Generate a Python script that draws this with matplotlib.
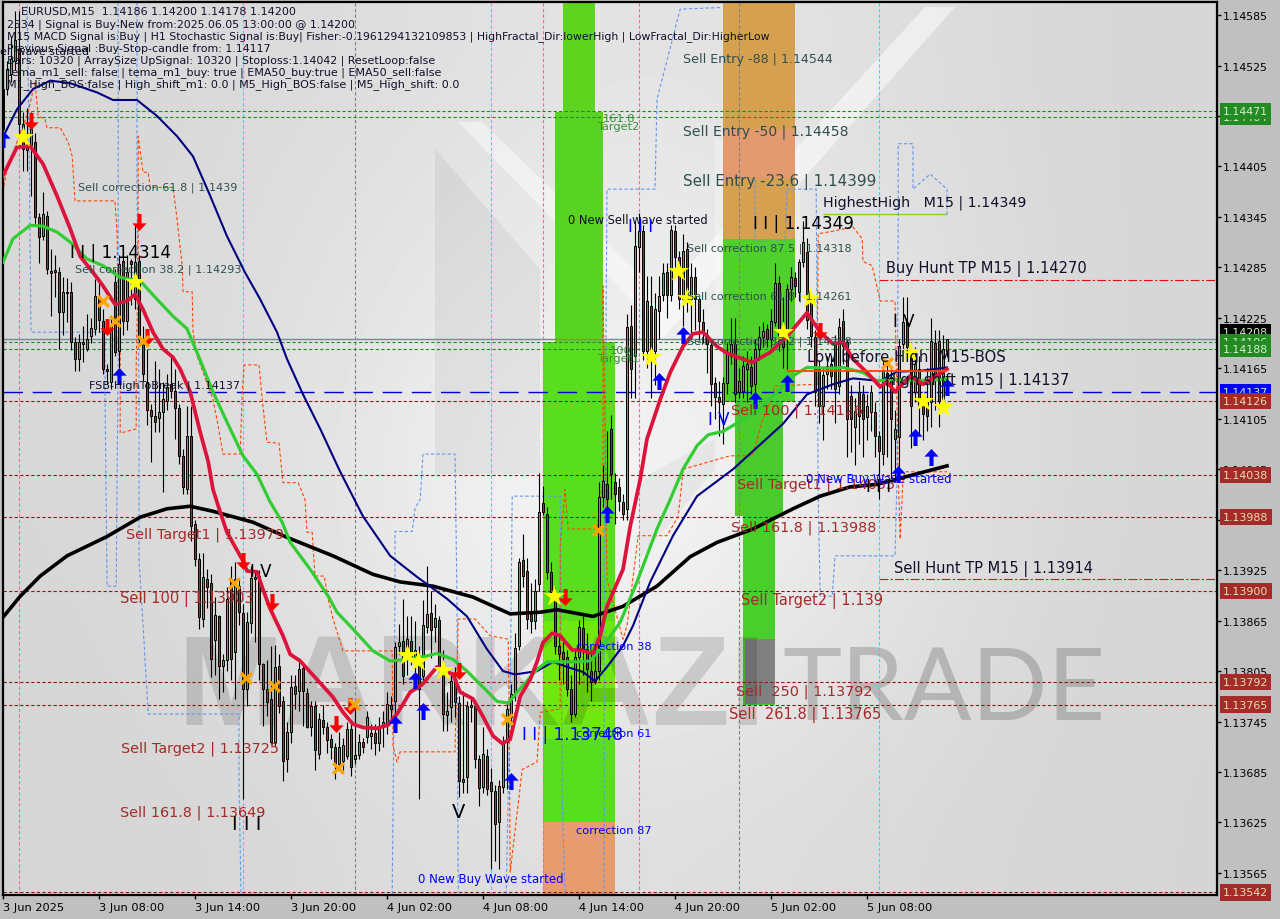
import matplotlib
matplotlib.use('Agg')
import matplotlib.pyplot as plt
import numpy as np
from matplotlib.patches import Polygon, Rectangle
from matplotlib.path import Path

# all prices are points above 1.13000
opens = [1449,1497,1515,1530,1545,1455,1430,1430,1434,1345,1322,1346,1281,1282,1280,1232,1256,1256,1196,1176,
         1196,1188,1203,1212,1251,1221,1164,1149,1268,1185,1292,1221,1292,1247,1292,1200,1149,1116,1108,1106,
         1113,1126,1146,1138,1118,1061,1021,1084,980,938,867,914,910,842,870,811,818,914,828,906,
         874,784,862,917,918,813,784,772,721,811,769,700,733,787,781,809,779,738,763,706,
         747,738,724,715,695,698,704,736,700,705,721,727,728,731,720,738,742,765,769,835,
         841,830,841,820,811,799,858,874,857,866,813,753,762,795,767,677,679,765,763,700,
         667,704,673,663,625,667,721,750,778,835,937,924,873,864,908,1005,992,923,899,835,
         828,822,784,754,822,856,831,805,792,805,1012,1028,1093,1030,1024,1006,998,1215,1180,1309,
         1328,1185,1239,1185,1233,1252,1279,1252,1328,1297,1247,1307,1247,1273,1247,1220,1205,1193,1147,1131,
         1122,1148,1180,1194,1137,1138,1164,1166,1146,1188,1202,1212,1200,1220,1267,1200,1203,1259,1272,1256,
         1291,1303,1247,1202,1164,1120,1158,1170,1196,1144,1221,1196,1132,1095,1137,1134,1107,1113,1113,1084,
         1063,1160,1155,1081,1083,1194,1220,1184,1137,1164,1126,1125,1125,1195,1197,1126,1186]
highs = [1510,1530,1560,1590,1590,1470,1475,1470,1445,1350,1375,1352,1307,1300,1285,1274,1272,1268,1202,1206,
         1215,1229,1225,1271,1272,1235,1170,1225,1283,1300,1300,1300,1295,1336,1300,1215,1188,1122,1174,1164,
         1149,1158,1178,1164,1122,1069,1120,1120,985,945,945,926,920,893,872,825,905,930,935,915,
         885,875,930,925,925,815,818,835,836,825,775,745,800,800,820,815,785,770,770,755,
         765,745,730,720,732,725,745,745,760,730,725,758,742,742,750,758,780,775,840,861,
         891,870,870,865,835,890,930,900,885,870,830,780,800,810,775,781,770,775,770,705,
         738,712,690,670,675,728,770,790,850,940,968,940,910,915,1040,1025,1000,935,905,845,
         840,830,800,830,866,870,850,830,830,1030,1050,1090,1110,1040,1035,1015,1230,1240,1340,1350,
         1335,1275,1275,1255,1275,1290,1290,1335,1335,1305,1325,1315,1290,1285,1250,1235,1212,1200,1155,1150,
         1155,1195,1225,1225,1165,1180,1185,1180,1200,1215,1220,1218,1235,1290,1275,1250,1265,1285,1280,1295,
         1340,1320,1255,1210,1175,1165,1180,1180,1205,1225,1235,1200,1145,1130,1150,1145,1135,1145,1125,1090,
         1175,1170,1165,1115,1200,1250,1250,1190,1190,1180,1135,1165,1225,1210,1210,1205,1200]
lows = [1440,1490,1505,1520,1440,1400,1400,1370,1335,1290,1318,1277,1227,1250,1188,1204,1220,1187,1162,1162,
        1172,1186,1195,1205,1208,1158,1146,1140,1180,1165,1205,1210,1240,1235,1195,1150,1098,1054,1089,1089,
        1018,1116,1130,1081,1051,1015,1015,960,930,855,857,880,798,800,772,780,805,795,772,860,
        653,763,850,840,795,740,752,718,716,755,674,685,720,760,757,740,737,728,688,700,
        730,708,700,677,690,688,700,680,695,700,708,720,712,705,710,715,730,745,750,825,
        790,800,812,790,653,790,850,820,840,800,734,734,745,750,655,660,660,745,690,645,
        660,658,570,579,570,660,665,730,770,830,905,855,850,855,900,990,915,890,825,795,
        790,775,745,750,790,800,780,770,790,795,1000,990,1010,980,995,985,985,1130,1130,1280,
        1175,1165,1130,1145,1200,1245,1225,1245,1285,1235,1215,1232,1200,1210,1200,1195,1160,1120,1105,1085,
        1075,1135,1170,1125,1130,1130,1125,1135,1135,1175,1190,1190,1190,1215,1185,1165,1164,1245,1250,1245,
        1285,1212,1190,1120,1100,1080,1140,1140,1100,1135,1170,1060,1065,1050,1075,1060,1080,1090,1060,1010,
        1050,1060,1030,1030,1045,1185,1180,1070,1125,1085,1080,1090,1095,1115,1095,1115,1178]
closes = [1497,1521,1533,1555,1455,1426,1425,1450,1345,1321,1348,1283,1278,1280,1232,1256,1254,1196,1176,1196,
          1194,1200,1213,1251,1223,1164,1162,1215,1184,1289,1221,1279,1289,1291,1200,1158,1116,1108,1101,1113,
          1128,1143,1138,1118,1061,1024,1084,977,938,869,917,905,819,872,811,818,891,819,914,875,
          784,863,916,915,814,784,768,721,810,763,698,733,786,778,807,781,738,763,711,748,
          738,723,715,695,715,717,736,691,705,721,715,750,731,719,738,745,766,760,834,840,
          799,843,823,830,784,860,873,854,868,811,754,758,793,768,674,673,763,762,700,666,
          706,665,663,623,668,721,760,778,832,935,918,867,864,900,994,994,923,899,835,825,
          819,784,754,822,858,831,807,792,805,1012,1031,1010,1039,1015,1007,992,1214,1164,1310,1328,
          1185,1245,1176,1235,1251,1278,1252,1329,1297,1247,1304,1256,1273,1247,1221,1208,1194,1146,1131,1125,
          1147,1182,1194,1134,1150,1168,1170,1144,1188,1202,1209,1200,1221,1267,1196,1190,1259,1273,1263,1291,
          1315,1223,1203,1137,1120,1157,1168,1156,1140,1214,1191,1105,1105,1114,1108,1105,1120,1137,1084,1067,
          1162,1145,1105,1093,1191,1220,1190,1120,1170,1120,1111,1108,1197,1158,1126,1188,1200]

# moving averages: bar position, price points
red_x = [0,3.5,6.8,10,13.5,16.8,19.3,22.5,25,28,31,33,35,37.5,40,42.5,44.3,46.8,49.3,51.3,52.5,54.3,56,60,61,63.5,65,66.8,70,71.8,74.3,78.5,82.5,85,87.5,90,93.5,96.3,98.5,101.8,104.8,108.5,112.5,114.3,117.5,120,122.5,124.8,126.8,129.3,131.8,133.5,135,137.3,139.3,142.3,144.3,147.5,149.3,151,155,156.8,159.3,161,164.3,166.8,170,172.5,175,178.5,181,187.3,191.8,196,201,204.3,207.5,210,212.5,216,219.3,221,223,226.8,230,236]
red_y = [1394,1428,1429,1408,1370,1331,1298,1279,1263,1241,1245,1253,1235,1208,1188,1178,1164,1137,1089,1054,1021,994,970,936,924,923,902,879,847,825,817,795,774,756,742,738,737,741,754,780,789,810,801,780,772,751,728,719,724,775,795,816,839,850,847,830,830,826,847,882,926,977,1033,1081,1128,1160,1191,1206,1208,1191,1183,1172,1184,1203,1231,1208,1194,1196,1176,1160,1143,1149,1137,1156,1146,1164]
green_x = [0,2.5,6.8,10,13.5,16.8,21,25,29.3,34.3,38.5,42.5,46,48.5,52.5,56,60,63.5,66.8,69.8,71.8,76.8,81.3,83.5,87.5,92.5,96.8,101,105,108.5,112.5,116,120,123.5,126.3,129.3,133.5,136,143.5,146.8,150,154.3,158.5,163.5,166.8,170,173.5,176.3,180,184.3,189.3,193.5,197.5,201,207.5,210,215,218.5,222.5,227.5,236]
green_y = [1291,1319,1335,1334,1327,1315,1295,1287,1273,1269,1247,1227,1212,1184,1137,1101,1061,1039,1006,982,958,926,894,875,855,829,817,819,822,826,819,805,786,769,767,784,807,816,816,817,835,863,911,974,1009,1045,1073,1086,1090,1102,1117,1137,1156,1166,1165,1166,1160,1150,1152,1150,1152]
navy_x = [0,3.5,7.5,11.8,16.8,23.5,27.5,33.5,38.5,43.5,47.5,51.8,56,60.5,64.3,68.5,71,75,79.3,84.3,90,96.8,103.5,111,116,121,125,128,133.5,137.5,141,145,148,151,155,157.5,161.8,167.5,173.5,182.5,195,201,207.5,212.5,219.3,223.5,229.3,236]
navy_y = [1440,1473,1497,1507,1504,1493,1484,1484,1465,1441,1417,1370,1322,1279,1247,1208,1176,1134,1093,1042,989,942,917,891,870,831,805,801,805,816,810,804,793,810,835,859,911,966,1013,1045,1099,1134,1146,1153,1150,1161,1162,1166]
black_x = [0,4.3,9.3,16,26,34.3,41,46.8,52.5,62.5,71,82.5,92.5,99.3,107.5,117.5,126.8,134.3,138.5,147.5,155,163.5,171.8,178.5,187.5,197.5,204.3,211.8,218.5,236]
black_y = [869,894,918,942,965,988,998,1001,995,982,964,942,920,911,906,893,873,875,878,870,882,906,941,958,974,998,1013,1024,1027,1049]

# stop channels
blue_steps = [
    ([28.8,28.8,28.3,26,25.5,25.5,7,6.5,6], [1600,1188,906,906,1140,1208,1208,1449,1600]),
    ([33.5,33.5,34,34,35,35.5,36.3,59,59,59.5], [1600,1378,1128,938,861,819,754,754,673,540]),
    ([97.3,98,98,102.3,103,104.3,105,113,113.5,113.8], [540,891,971,971,998,1009,1063,1063,891,542]),
    ([125.8,126.8,127.3,139.3,139.8,140.5], [540,772,1013,1013,653,540]),
    ([150.3,150.3,150.8,151,163,163.5,169.3,179.8], [540,891,1247,1378,1378,1485,1592,1594]),
    ([188,188,195.5,196,203.3,203.8,204.3,207.3,208,223,223.5,223.8,223.8,227.5,227.5,231.8,236,236],
     [1390,1316,1316,1378,1378,1013,894,894,942,942,1033,1342,1432,1432,1378,1396,1378,1348]),
]
orange_x = [0,1,6.3,8,8.8,10.5,11,14.3,16.3,17.3,18,28,28.5,28.8,29.3,29.3,33.3,33.3,33.8,33.8,35,36.3,36.8,42.5,43.3,44.8,45,47.3,47.5,48.5,52.5,53.8,55,59.3,59.8,60.3,64,64.8,66,69,70,73.8,75.5,76,77.3,78,80.3,81.3,82.5,85,97.3,97.5,98.5,99.3,113,113.8,118,121.8,126.3,126.5,126.8,129.8,133.5,134.3,139.3,139.3,140.5,141.3,148.5,150,150,151,155,156,158.8,166,168.8,169.8,170,181.8,187.3,190,192.3,193,203.5,203.8,207.5,212.5,214.8,215,217.3,219.3,223,223.8,224.3,225,225.5,236]
orange_y = [1375,1402,1470,1505,1465,1461,1451,1451,1434,1417,1364,1364,1327,1247,1184,1088,1093,1168,1287,1441,1398,1398,1380,1380,1351,1287,1256,1256,1208,1180,1128,1096,1063,1063,1137,1169,1169,1128,1077,1076,1029,1029,1009,970,970,918,918,891,867,829,829,716,697,709,709,867,867,847,843,772,566,688,697,756,760,954,1021,974,974,1033,1263,914,843,859,966,966,989,1033,1045,1061,1061,1105,1132,1144,1146,1325,1328,1333,1319,1292,1287,1245,1245,1042,962,1033,1042,1042]

# signal marks
star_x = [5,33,101,103.8,110,137.8,162,168.8,171,195,201.8,226.8,230,235]
star_y = [1440,1268,824,817,806,894,1178,1281,1248,1208,1248,1184,1126,1119]
cross_x = [25,28,35,57.8,60.8,67.8,83.8,87.8,126,148.8,221]
cross_y = [1245,1221,1197,910,797,787,690,766,748,973,1171]
buy_x = [0,29,98,103,105,127,151,164,170,188,196,228,232,236,223.8]
buy_y = [1438,1156,742,795,757,674,992,1150,1204,1127,1147,1083,1059,1143,1039]
sell_x = [7,26,34,36,60,67.3,83.3,86.8,114,140.5,204.3]
sell_y = [1459,1214,1339,1202,936,887,742,763,805,893,1209]

time_labels = ['3 Jun 2025','3 Jun 08:00','3 Jun 14:00','3 Jun 20:00','4 Jun 02:00','4 Jun 08:00',
               '4 Jun 14:00','4 Jun 20:00','5 Jun 02:00','5 Jun 08:00']
price_ticks = [1.14585,1.14525,1.14465,1.14405,1.14345,1.14285,1.14225,1.14165,1.14105,1.14045,
               1.13985,1.13925,1.13865,1.13805,1.13745,1.13685,1.13625,1.13565]
brown_levels = [1.14126,1.14038,1.13988,1.13900,1.13792,1.13765,1.13542]
green_levels = [1.14471,1.14464,1.14196,1.14188]

W, H = 1280, 920
BROWN = '#a52a2a'
fig = plt.figure(figsize=(W / 100, H / 100), dpi=100, facecolor='#c0c0c0')
L, R, T, B = 3, 1217, 3, 896
ax = fig.add_axes([L / W, 1 - B / H, (R - L) / W, (B - T) / H])

def pr(p):
    return 1.13 + np.asarray(p, dtype=float) / 1e5

def fp(x, y):
    return (x / W, 1 - y / H)

ax.set_xlim(0, (R - L) / 4)
ax.set_ylim(1.135388, 1.146005)

# background shading
shade = np.array([
    [215,217,221,226,228,224,218,214],
    [215,219,226,233,234,228,219,214],
    [215,220,231,240,240,232,220,214],
    [215,220,233,245,243,233,220,214],
    [214,218,226,234,234,226,218,213],
    [213,215,219,222,222,219,215,213]], dtype=float) / 255
ax.imshow(shade, cmap='gray', vmin=0, vmax=1, aspect='auto', interpolation='bicubic',
          extent=[0, (R - L) / 4, 1.135388, 1.146005], zorder=0)

logo = [
    ([(435,150),(435,475),(540,475),(540,270)], 'black', 0.05),
    ([(458,123),(482,123),(650,285),(650,320)], 'white', 0.45),
    ([(955,8),(925,8),(640,320),(640,365)], 'white', 0.5),
    ([(715,140),(800,140),(800,300),(715,300)], 'white', 0.25),
    ([(640,480),(715,440),(715,470),(640,560)], 'black', 0.04),
]
for pts, col, a in logo:
    ax.add_patch(Polygon([fp(*p) for p in pts], transform=fig.transFigure, fc=col, alpha=a, ec='none', zorder=1))

# fibo zones
zones = [
    (140, 148, 1470, 1604, '#5fd41f'), (138, 150, 1196, 1470, '#59d321'), (135, 153, 626, 1196, '#59dd1f'),
    (135, 153, 724, 865, '#6fe80f'), (135, 153, 540, 626, '#e69c6c'),
    (180, 198, 1319, 1604, '#d5a151'), (180, 198, 1391, 1449, '#e39a6e'), (180, 198, 1125, 1319, '#4ed12b'),
    (183, 195, 989, 1125, '#49ca2d'), (185, 193, 765, 989, '#48cf2a'), (185.5, 193, 766, 843, '#808080'),
]
for x0, x1, y0, y1, col in zones:
    ax.add_patch(Rectangle((x0, pr(y0)), x1 - x0, pr(y1) - pr(y0), fc=col, ec='none', zorder=1.2))

ax.text(*fp(178, 692), 'MARKAZI', transform=fig.transFigure, family='Liberation Sans', weight='bold',
        fontsize=92, color='black', alpha=0.13, va='center', ha='left', zorder=1.4)
ax.text(*fp(782, 692), 'TRADE', transform=fig.transFigure, family='Lato', weight='normal',
        fontsize=72, color='black', alpha=0.18, va='center', ha='left', zorder=1.4)

# vertical session lines
for i, col in [(4,'#f06aa8'),(135,'#f06aa8'),(159,'#f06aa8'),(60,'#19e6e6'),(122,'#19e6e6'),(219,'#19e6e6'),(88,'#808080'),(184,'#808080')]:
    ax.axvline(i, color=col, lw=0.8, ls=(0, (3, 2)), zorder=1.6)

# horizontal levels
for p in brown_levels:
    ax.axhline(p, color='#8b1a1a', lw=0.8, ls=(0, (3, 2)), zorder=1.7)
for p in green_levels:
    ax.axhline(p, color='#228b22', lw=0.8, ls=(0, (3, 2)), zorder=1.7)
ax.axhline(1.14200, color='#778899', lw=1, zorder=1.7)
ax.axhline(1.14137, color='#0000cd', lw=1, ls=(0, (14, 7)), zorder=1.7)
for p in [1.14270, 1.13914]:
    ax.hlines(p, 219, (R - L) / 4, color='#dd1111', lw=0.8, ls=(0, (8, 2, 2, 2)), zorder=1.7)
ax.hlines(1.14349, 205, 236, color='#7fdb20', lw=1, zorder=1.7)
ax.hlines(1.14162, 196, 236, color='#ff4500', lw=1.3, zorder=3.2)

# channels
for xs, ys in blue_steps:
    ax.plot(xs, pr(ys), color='#6495ed', lw=0.8, ls=(0, (3, 2)), zorder=1.8)
ax.plot(orange_x, pr(orange_y), color='#ff4500', lw=0.8, ls=(0, (3, 2)), zorder=1.8)

# candles
bars = np.arange(len(opens))
o, h, l, c = pr(opens), pr(highs), pr(lows), pr(closes)
ax.vlines(bars, l, h, color='black', lw=0.8, zorder=2)
up = c >= o
ax.bar(bars[up], (c - o)[up], bottom=o[up], width=0.72, color='#3cb371', edgecolor='black', lw=0.7, zorder=2.1)
ax.bar(bars[~up], (o - c)[~up], bottom=c[~up], width=0.72, color='#c41e3a', edgecolor='black', lw=0.7, zorder=2.1)

# averages
ax.plot(black_x, pr(black_y), color='black', lw=2.6, zorder=3)
ax.plot(navy_x, pr(navy_y), color='#000080', lw=1.5, zorder=3)
ax.plot(green_x, pr(green_y), color='#32cd32', lw=2.3, zorder=3.1)
ax.plot(red_x, pr(red_y), color='#dc143c', lw=2.7, zorder=3.1)

arrow = Path([(-.12,-.5),(.12,-.5),(.12,.05),(.42,.05),(0,.5),(-.42,.05),(-.12,.05),(-.12,-.5)], closed=True)
arrow_down = Path(arrow.vertices * [1, -1], closed=True)
ax.scatter(buy_x, pr(buy_y), marker=arrow, s=150, color='#0000ff', lw=0, zorder=4)
ax.scatter(sell_x, pr(sell_y), marker=arrow_down, s=150, color='#ff0000', lw=0, zorder=4)
ax.scatter(cross_x, pr(cross_y), marker='x', s=60, color='#ffa500', lw=2.4, zorder=4)
ax.scatter(star_x, pr(star_y), marker='*', s=260, color='#ffff00', lw=0, zorder=4.1)

# axes
ax.yaxis.tick_right()
ax.set_yticks(price_ticks, [f'{p:.5f}' for p in price_ticks])
ax.set_xticks(np.arange(len(time_labels)) * 24, time_labels, ha='left')
ax.tick_params(axis='y', length=3, width=1, colors='black', labelsize=7.9, pad=1)
ax.tick_params(axis='x', length=3, width=1, colors='black', labelsize=8.2, pad=2)
for s in ax.spines.values():
    s.set_linewidth(1.6)
    s.set_color('black')

# price tags
tags = [(1.14464,'#228b22'),(1.14471,'#228b22'),(1.14208,'#000000'),(1.14196,'#228b22'),(1.14188,'#228b22'),
        (1.14137,'#0000ff'),(1.14126,BROWN),(1.14038,BROWN),(1.13988,BROWN),(1.13900,BROWN),(1.13792,BROWN),
        (1.13765,BROWN),(1.13542,BROWN)]
for n, (p, col) in enumerate(tags):
    ax.text(1.0049, p, f'{p:.5f}', transform=ax.get_yaxis_transform(), va='center', ha='left', fontsize=7.9,
            color='#e6e0b0' if col == BROWN else '#d8ecd0', clip_on=False, zorder=6 + n * 0.01,
            bbox=dict(boxstyle='square,pad=0.3', fc=col, ec=col, lw=0))

# chart texts: x, y, text, size, colour
SLATE = '#2f4f4f'
INK = '#10102a'
notes = [
    (21,12,'EURUSD,M15  1.14186 1.14200 1.14178 1.14200',8,INK),
    (7,25,'2534 | Signal is Buy-New from:2025.06.05 13:00:00 @ 1.14200',7.95,INK),
    (7,37,'M15 MACD Signal is:Buy | H1 Stochastic Signal is:Buy| Fisher:-0.1961294132109853 | HighFractal_Dir:lowerHigh | LowFractal_Dir:HigherLow',7.8,INK),
    (7,49,'Previous Signal :Buy-Stop-candle from: 1.14117',7.9,INK),
    (0,52,'ell wave started',7.9,INK),
    (7,61,'Bars: 10320 | ArraySize UpSignal: 10320 | Stoploss:1.14042 | ResetLoop:false',7.9,INK),
    (7,73,'tema_m1_sell: false | tema_m1_buy: true | EMA50_buy:true | EMA50_sell:false',8,INK),
    (7,85,'M1_High_BOS:false | High_shift_m1: 0.0 | M5_High_BOS:false | M5_High_shift: 0.0',8.05,INK),
    (78,188,'Sell correction 61.8 | 1.1439',8.15,SLATE),
    (75,270,'Sell correction 38.2 | 1.14293',8.1,SLATE),
    (687,249,'Sell correction 87.5 | 1.14318',8,SLATE),
    (687,297,'Sell correction 61.8 | 1.14261',8,SLATE),
    (687,342,'Sell correction 38.2 | 1.14208',8,SLATE),
    (89,386,'FSB-HighToBreak | 1.14137',8,INK),
    (70,253,'I I | 1.14314',12.2,'black'),
    (753,224,'I I | 1.14349',12.2,'black'),
    (522,735,'I I | 1.13748',12.2,'#0000ff'),
    (126,535,'Sell Target1 | 1.13979',10.4,BROWN),
    (120,599,'Sell 100 | 1.13903',10.5,BROWN),
    (121,749,'Sell Target2 | 1.13725',10.4,BROWN),
    (120,813,'Sell 161.8 | 1.13649',10.4,BROWN),
    (731,411,'Sell 100 | 1.14126',10.4,BROWN),
    (737,485,'Sell Target1 | 1.14055',10.4,BROWN),
    (731,528,'Sell 161.8 | 1.13988',10.4,BROWN),
    (741,601,'Sell Target2 | 1.139',10.5,BROWN),
    (736,692,'Sell  250 | 1.13792',10.4,BROWN),
    (729,715,'Sell  261.8 | 1.13765',10.5,BROWN),
    (683,60,'Sell Entry -88 | 1.14544',9.1,SLATE),
    (683,132,'Sell Entry -50 | 1.14458',10.1,SLATE),
    (683,182,'Sell Entry -23.6 | 1.14399',10.9,SLATE),
    (823,203,'HighestHigh   M15 | 1.14349',10.3,INK),
    (886,269,'Buy Hunt TP M15 | 1.14270',10.5,INK),
    (807,358,'Low before High  M15-BOS',10.7,INK),
    (885,381,'High shift m15 | 1.14137',10.6,INK),
    (894,569,'Sell Hunt TP M15 | 1.13914',10.5,INK),
    (418,880,'0 New Buy Wave started',8.5,'#0000ff'),
    (806,479,'0 New Buy Wave started',8.5,'#0000ff'),
    (568,221,'0 New Sell wave started',8.3,INK),
    (576,647,'correction 38',8.2,'#0000ff'),
    (576,734,'correction 61',8.2,'#0000ff'),
    (576,831,'correction 87',8.2,'#0000ff'),
    (603,119,'161.8',8.2,'#3b8f3b'),
    (597,127,'Target2',8.2,'#3b8f3b'),
    (610,351,'100',8.2,'#3b8f3b'),
    (597,359,'Target1',8.2,'#3b8f3b'),
    (232,825,'I I I',14,'black'),
    (452,813,'V',14,'black'),
    (250,572,'I V',12,'black'),
    (893,322,'I V',12,'black'),
    (708,420,'I V',12,'#0000ff'),
    (628,227,'I I I',12,'#0000ff'),
    (866,487,'I I I',12,'black'),
]
for x, y, s, size, col in notes:
    fig.text(*fp(x, y), s, fontsize=size, color=col, va='center', ha='left')

fig.savefig('out.png', dpi=100, facecolor=fig.get_facecolor())
